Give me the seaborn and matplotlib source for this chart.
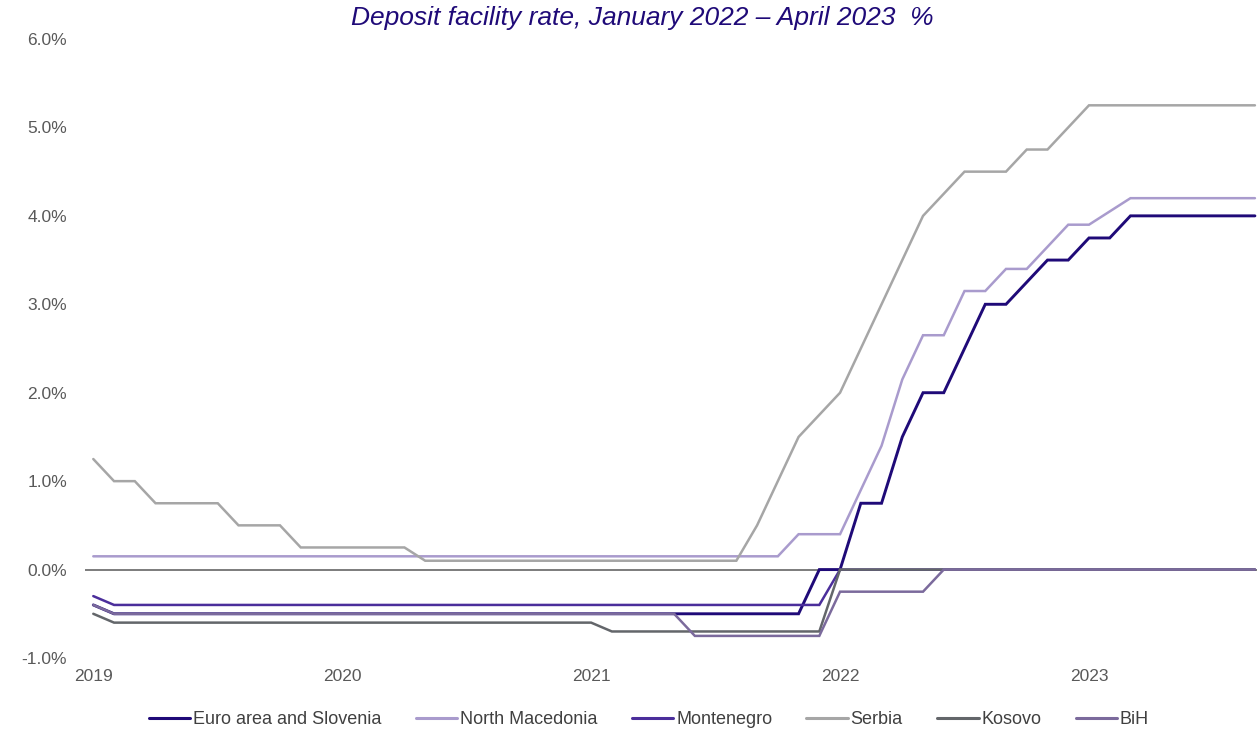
import numpy as np
import pandas as pd
import seaborn as sns
import matplotlib.pyplot as plt
from matplotlib.ticker import FuncFormatter

# monthly observations, Jan 2019 - Sep 2023 (57 months)
months = np.arange(57)

euro_area = [-0.4] + [-0.5] * 34 + [0.0, 0.0, 0.75, 0.75, 1.5, 2.0, 2.0, 2.5, 3.0, 3.0,
             3.25, 3.5, 3.5, 3.75, 3.75] + [4.0] * 7
north_macedonia = [0.15] * 34 + [0.4, 0.4, 0.4, 0.9, 1.4, 2.15, 2.65, 2.65, 3.15, 3.15,
                   3.4, 3.4, 3.65, 3.9, 3.9, 4.05] + [4.2] * 7
montenegro = [-0.3] + [-0.4] * 35 + [0.0] * 21
serbia = [1.25, 1.0, 1.0, 0.75, 0.75, 0.75, 0.75, 0.5, 0.5, 0.5] + [0.25] * 6 + [0.1] * 16 + \
         [0.5, 1.0, 1.5, 1.75, 2.0, 2.5, 3.0, 3.5, 4.0, 4.25, 4.5, 4.5, 4.5, 4.75, 4.75, 5.0] + [5.25] * 9
kosovo = [-0.5] + [-0.6] * 24 + [-0.7] * 11 + [0.0] * 21
bih = [-0.4] + [-0.5] * 28 + [-0.75] * 7 + [-0.25] * 5 + [0.0] * 16

series_names = ["Euro area and Slovenia", "North Macedonia", "Montenegro", "Serbia", "Kosovo", "BiH"]
series_values = [euro_area, north_macedonia, montenegro, serbia, kosovo, bih]
colors = ["#1F0A78", "#A99BCD", "#4B2E9B", "#A6A6A6", "#63666A", "#7B6A9C"]
widths = [2.1, 1.8, 1.8, 1.8, 1.8, 1.8]

year_ticks = [0, 12, 24, 36, 48]
year_labels = ["2019", "2020", "2021", "2022", "2023"]

df = pd.concat([pd.DataFrame({"month": months, "rate": v, "country": n})
                for n, v in zip(series_names, series_values)], ignore_index=True)

sns.set_style("white")
plt.rcParams['font.family'] = ['Liberation Sans', 'DejaVu Sans']

fig = plt.figure(figsize=(12.58, 7.33), dpi=100)
ax = fig.add_axes([85 / 1258, 1 - 658 / 733, 1 - 86 / 1258, (658 - 39) / 733])

ax.axhline(0, color="#595959", lw=1.1, zorder=1)

sns.lineplot(data=df, x="month", y="rate", hue="country", hue_order=series_names,
             palette=colors, ax=ax, legend=False, zorder=3)
for line, w in zip(ax.get_lines()[1:], widths):
    line.set_linewidth(w)
    line.set_solid_joinstyle("miter")

ax.set_xlim(-0.4, 56.1)
ax.set_ylim(-1.0, 6.0)
ax.set_yticks(np.arange(-1.0, 6.01, 1.0))
ax.yaxis.set_major_formatter(FuncFormatter(lambda v, p: f"{v:.1f}%"))
ax.set_xticks(year_ticks)
ax.set_xticklabels(year_labels)
ax.tick_params(axis="both", labelsize=12.5, colors="#595959", length=0, pad=8)
ax.tick_params(axis="y", pad=13)
ax.set_xlabel("")
ax.set_ylabel("")
sns.despine(ax=ax, left=True, bottom=True)

fig.text(642 / 1258, 1 - 18 / 733, "Deposit facility rate, January 2022 \u2013 April 2023  %",
         ha="center", va="center", fontsize=19, style="italic", color="#1F0A78")

handles = [plt.Line2D([], [], color=c, lw=2.2) for c in colors]
fig.legend(handles, series_names, loc="center", bbox_to_anchor=(649 / 1258, 1 - 720 / 733),
           ncol=6, frameon=False, fontsize=13, handlelength=2.3, handletextpad=0.15,
           columnspacing=1.9, labelcolor="#404040")

fig.savefig("out.png", dpi=100)
